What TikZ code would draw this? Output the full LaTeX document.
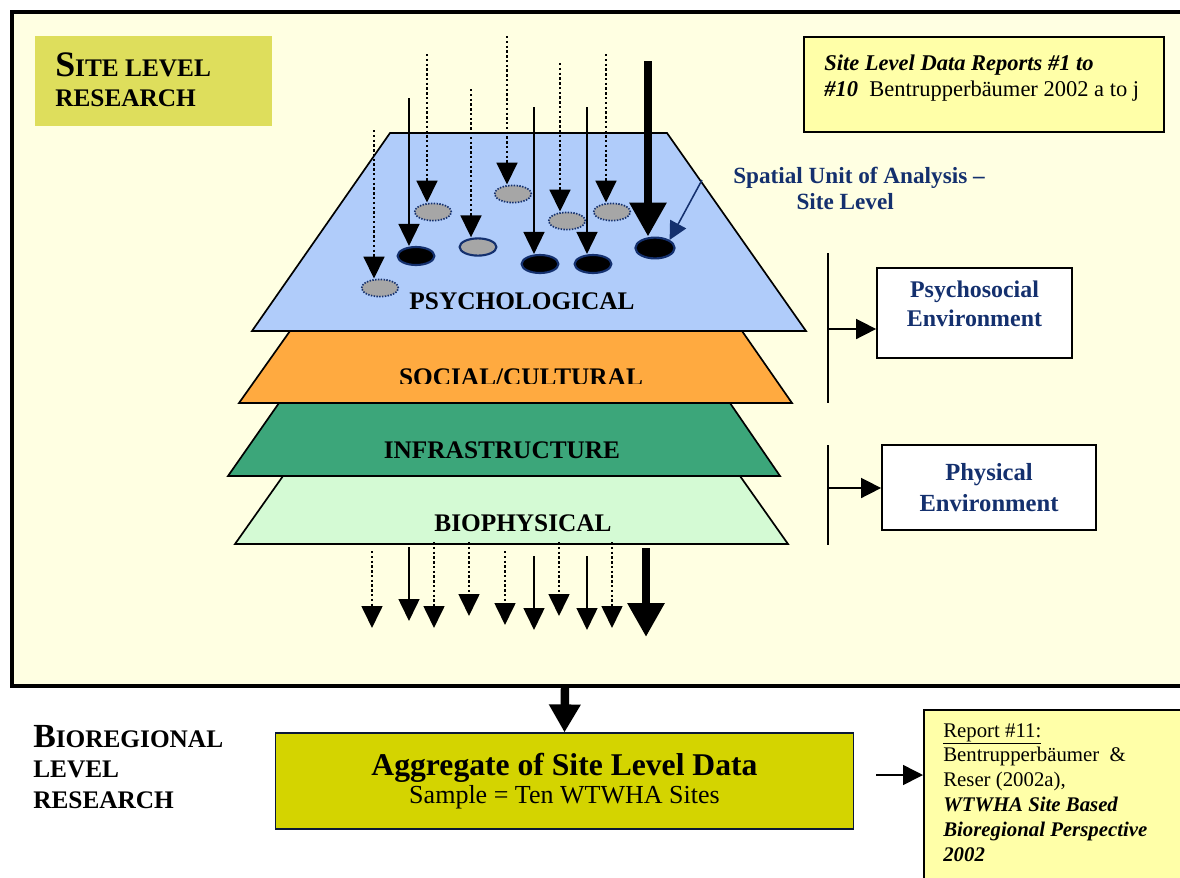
\documentclass[tikz,border=0pt]{standalone}
\usepackage{fontspec}
\setmainfont{Liberation Serif}
\usetikzlibrary{arrows.meta,shapes.geometric}
\definecolor{frameFill}{RGB}{255,255,226}
\definecolor{siteFill}{RGB}{222,222,92}
\definecolor{noteFill}{RGB}{255,255,168}
\definecolor{psyFill}{RGB}{176,204,250}
\definecolor{socFill}{RGB}{255,170,64}
\definecolor{infFill}{RGB}{60,166,122}
\definecolor{bioFill}{RGB}{212,250,212}
\definecolor{aggFill}{RGB}{212,212,0}
\definecolor{unitBlue}{RGB}{20,48,110}
\definecolor{spotGray}{RGB}{166,166,166}
\newcommand{\fsz}[2]{\fontsize{#1pt}{#2pt}\selectfont}

\begin{document}
\begin{tikzpicture}[x=0.025cm, y=-0.025cm]
  \tikzset{
    layer/.style={draw=black, line width=1.2pt},
    layerlabel/.style={font=\fsz{18}{20}\bfseries, inner sep=0pt, anchor=base},
    plaintext/.style={text width=#1, align=left, inner sep=0pt, anchor=base west,
      execute at begin node={\spaceskip=0pt\relax\xspaceskip=0pt\relax}},
    levellabel/.style={plaintext=6cm, font=\fsz{18}{22}\bfseries},
    solidarrow/.style={line width=1.6pt, -{Triangle[width=0.52cm,length=0.55cm]}},
    dotarrow/.style={line width=1.7pt, dash pattern=on 1.7pt off 1.7pt, -{Triangle[width=0.52cm,length=0.55cm]}},
    thickarrow/.style={line width=6pt, -{Triangle[width=0.88cm,length=0.85cm]}},
    sidearrow/.style={line width=1.1pt, -{Triangle[width=0.5cm,length=0.5cm]}},
    droparrow/.style={line width=6pt, -{Triangle[width=0.75cm,length=0.7cm]}},
    unitarrow/.style={draw=unitBlue, line width=1.1pt, -{Triangle[width=0.45cm,length=0.45cm]}},
    spot/.style={ellipse, inner sep=0pt, minimum width=0.92cm, minimum height=0.43cm, draw=unitBlue},
    grayspot/.style={spot, fill=spotGray, line width=1.2pt, dash pattern=on 1pt off 1pt},
    graysolidspot/.style={spot, fill=spotGray, line width=1.5pt},
    blackspot/.style={spot, fill=black, line width=1.5pt, minimum height=0.45cm},
    bigspot/.style={spot, fill=black, line width=1.5pt, minimum width=0.98cm, minimum height=0.52cm},
    envbox/.style={draw=black, line width=1.2pt, fill=white, align=center, inner sep=0pt,
      font=\fsz{17}{20.5}\bfseries, text=unitBlue},
    notebox/.style={draw=black, line width=1.2pt, fill=noteFill, inner sep=0pt}
  }
  \clip (0,0) rectangle (1180,877);

  % site level frame
  \draw[line width=3.5pt, fill=frameFill] (12,12) rectangle (1240,686);
  \node[fill=siteFill, minimum width=5.925cm, minimum height=2.25cm, inner sep=0pt] (site-box) at (153.5,81) {};
  \node[levellabel] (site-lbl) at (55,76) {{\fsz{25.5}{22}S}ITE LEVEL\\RESEARCH};

  \node[notebox, minimum width=9cm, minimum height=2.375cm] (note-site) at (984,84.5) {};
  \node[plaintext=8.2cm, font=\fsz{16}{19}] (note-site-txt) at (824,70)
    {\textbf{\textit{Site Level Data Reports \#1 to}}\\\textbf{\textit{\#10}}\ \ Bentrupperbäumer 2002 a to j};

  % layers, bottom first
  \draw[layer, fill=bioFill] (283,476) -- (740,476) -- (788,544) -- (235,544) -- cycle;
  \draw[layer, fill=infFill] (279,403) -- (730,403) -- (780,476) -- (228,476) -- cycle;
  \draw[layer, fill=socFill] (290,331) -- (742,331) -- (792,403) -- (239,403) -- cycle;
  \draw[layer, fill=psyFill] (390,133) -- (667,133) -- (806,331) -- (252,331) -- cycle;

  \node[layerlabel] (psy-lbl) at (522,309) {PSYCHOLOGICAL};
  \begin{scope}
    \clip (230,355) rectangle (800,383);
    \node[layerlabel] (soc-lbl) at (521,385) {SOCIAL/CULTURAL};
  \end{scope}
  \node[layerlabel] (inf-lbl) at (502,458) {INFRASTRUCTURE};
  \node[layerlabel] (bio-lbl) at (523,531) {BIOPHYSICAL};

  % spots of the site and the arrows into them
  \foreach \i/\x/\ya/\ex/\ey/\ast/\est in {
      1/374/130/380/288/dotarrow/grayspot,
      2/409/98/416/256/solidarrow/blackspot,
      3/427/54/433/212/dotarrow/grayspot,
      4/471/89/478/247/dotarrow/graysolidspot,
      5/507/36/513/194/dotarrow/grayspot,
      6/534/107/540/264/solidarrow/blackspot,
      7/560/63/567/221/dotarrow/grayspot,
      8/587/107/593/264/solidarrow/blackspot,
      9/606/54/612/212/dotarrow/grayspot,
      10/648/61/655/248/thickarrow/bigspot}
  {
    \node[\est] (spot-\i) at (\ex,\ey) {};
    \coordinate (src-\i) at (\x,\ya);
    \draw[\ast] (src-\i) -- (src-\i |- spot-\i.north);
  }

  \node[plaintext=7cm, font=\fsz{16.5}{19}\bfseries, text=unitBlue] (unit-lbl) at (733,183)
    {Spatial Unit of Analysis --\\\hspace*{45pt}Site Level};
  \coordinate (unit-src) at (702,180);
  \draw[unitarrow] (unit-src) -- (spot-10.north east);

  % environments
  \node[envbox, minimum width=4.875cm, minimum height=2.25cm, text depth=0.45cm] (psy-env) at (974.5,313) {Psychosocial\\Environment};
  \node[envbox, minimum width=5.35cm, minimum height=2.125cm, font=\fsz{17.5}{21.5}\bfseries] (phys-env) at (989,487.5) {Physical\\Environment};
  \coordinate (brk-a-top) at (828,253);
  \coordinate (brk-a-bot) at (828,403);
  \coordinate (brk-a-mid) at (828,329);
  \coordinate (brk-b-top) at (828,445);
  \coordinate (brk-b-bot) at (828,545);
  \coordinate (brk-b-mid) at (828,488);
  \draw[line width=1.2pt] (brk-a-top) -- (brk-a-bot);
  \draw[line width=1.2pt] (brk-b-top) -- (brk-b-bot);
  \draw[sidearrow] (brk-a-mid) -- (brk-a-mid -| psy-env.west);
  \draw[sidearrow] (brk-b-mid) -- (brk-b-mid -| phys-env.west);

  % arrows leaving the site
  \foreach \i/\x/\ya/\yb/\ast in {
      1/372/551/628/dotarrow, 2/409/547/621/solidarrow, 3/434/542/628/dotarrow,
      4/469/542/616/dotarrow, 5/505/551/625/dotarrow, 6/534/556/630/solidarrow,
      7/559/542/616/dotarrow, 8/587/556/630/solidarrow, 9/612/542/628/dotarrow,
      10/646/548/637/thickarrow}
  {
    \coordinate (out-\i) at (\x,\ya);
    \coordinate (end-\i) at (\x,\yb);
    \draw[\ast] (out-\i) -- (end-\i);
  }

  % bioregional level
  \node[levellabel] (bio-level-lbl) at (33,747) {{\fsz{24}{22}B}IOREGIONAL\\LEVEL\\RESEARCH};
  \node[draw=unitBlue!50!black, line width=0.8pt, fill=aggFill, minimum width=14.425cm, minimum height=2.4cm,
    align=center, inner sep=0pt] (agg) at (564.5,781)
    {{\fsz{22.5}{22.5}\bfseries Aggregate of Site Level Data}\\[1pt]{\fsz{18.5}{20}Sample = Ten WTWHA Sites}};
  \coordinate (frame-exit) at (565,686);
  \draw[droparrow] (frame-exit) -- (agg.north);

  \node[notebox, anchor=north west, minimum width=7cm, minimum height=5cm] (note-bio) at (923,709) {};
  \node[plaintext=6cm, font=\fsz{14.8}{17.7}] (note-bio-txt) at (943,737)
    {\underline{Report \#11:}\\Bentrupperbäumer\ \ \&\\Reser (2002a),\\\textbf{\textit{WTWHA Site Based}}\\
     \textbf{\textit{Bioregional Perspective}}\\\textbf{\textit{2002}}};
  \coordinate (agg-out) at (876,775);
  \draw[sidearrow] (agg-out) -- (agg-out -| note-bio.west);
\end{tikzpicture}
\end{document}
